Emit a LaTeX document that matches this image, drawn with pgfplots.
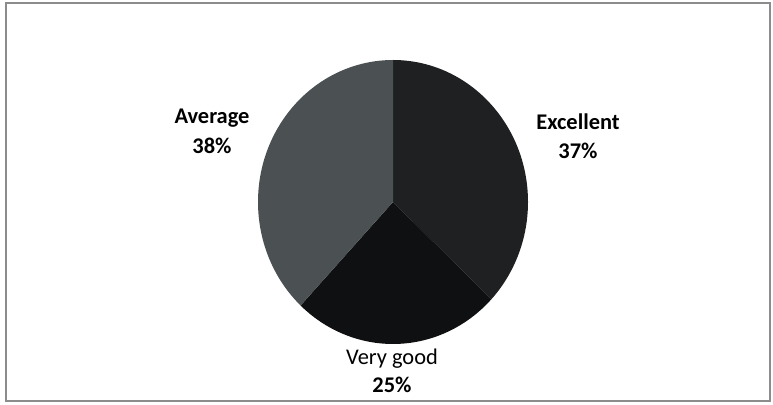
\documentclass[border=0pt]{standalone}
\usepackage{pgfplots}
\pgfplotsset{compat=1.18}
\usepackage{fontspec}
\setmainfont{Carlito}
\definecolor{avgc}{HTML}{4B5053}
\definecolor{excc}{HTML}{1E2022}
\definecolor{vgc}{HTML}{0F1011}
\definecolor{framec}{HTML}{8C8C8C}
% slice values (percent)
\def\vExc{37}
\def\vVg{25}
\def\vAvg{38}
\begin{document}
\begin{tikzpicture}
\pgfmathsetmacro\aA{90}
\pgfmathsetmacro\aB{\aA-3.6*\vExc}
\pgfmathsetmacro\aC{\aB-3.6*\vVg}
\pgfmathsetmacro\aD{\aC-3.6*\vAvg}
\begin{axis}[scale only axis, width=773bp, height=405bp,
  xmin=0, xmax=773, ymin=0, ymax=405, hide axis, clip=false]
\path (axis cs:0,0) rectangle (axis cs:773,405);
\draw[framec, line width=1.2bp] (axis cs:6,4) rectangle (axis cs:770,402);
\fill[excc] (axis cs:393,203) -- ++(\aA:135bp and 142bp) arc[start angle=\aA, end angle=\aB, x radius=135bp, y radius=142bp] -- cycle;
\fill[vgc] (axis cs:393,203) -- ++(\aB:135bp and 142bp) arc[start angle=\aB, end angle=\aC, x radius=135bp, y radius=142bp] -- cycle;
\fill[avgc] (axis cs:393,203) -- ++(\aC:135bp and 142bp) arc[start angle=\aC, end angle=\aD, x radius=135bp, y radius=142bp] -- cycle;
\node[align=center, font=\bfseries\fontsize{22.5}{30}\selectfont] at (axis cs:212,274) {Average\\38\%};
\node[align=center, font=\bfseries\fontsize{22.5}{29}\selectfont] at (axis cs:578,269) {Excellent\\37\%};
\node[align=center, font=\fontsize{22.5}{28}\selectfont] at (axis cs:392,34) {Very good\\\textbf{25\%}};
\end{axis}
\end{tikzpicture}
\end{document}
